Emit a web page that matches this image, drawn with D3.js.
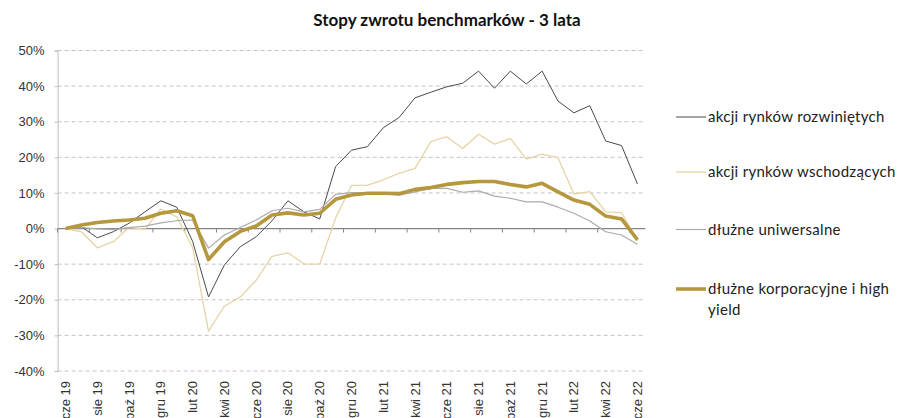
<!DOCTYPE html>
<html>
<head>
<meta charset="utf-8">
<script src="https://cdn.jsdelivr.net/npm/d3@7"></script>
<style>
  body { margin: 0; background: #fff; }
  svg { display: block; }
</style>
</head>
<body>
<div id="graph"></div>
<script>
// miesiace (dane miesieczne cze 19 - cze 22)
let miesiace = ["cze 19", "lip 19", "sie 19", "wrz 19", "paź 19", "lis 19", "gru 19",
  "sty 20", "lut 20", "mar 20", "kwi 20", "maj 20", "cze 20", "lip 20", "sie 20", "wrz 20",
  "paź 20", "lis 20", "gru 20", "sty 21", "lut 21", "mar 21", "kwi 21", "maj 21", "cze 21",
  "lip 21", "sie 21", "wrz 21", "paź 21", "lis 21", "gru 21", "sty 22", "lut 22", "mar 22",
  "kwi 22", "maj 22", "cze 22"];

// stopy zwrotu w %
let rozwiniete = [0, 0.5, -2.6, -0.9, 1.5, 4.7, 7.8, 6.0, -3.6, -19.2, -10.2, -5.1, -2.3, 2.2,
  7.8, 4.7, 2.7, 17.4, 22.0, 23.0, 28.3, 31.2, 36.7, 38.3, 39.8, 40.8, 44.2, 39.4, 44.2, 40.6,
  44.2, 35.8, 32.5, 34.5, 24.6, 23.3, 12.5];
let wschodzace = [0, -0.9, -5.4, -3.7, 0.3, -0.2, 5.5, 3.3, -5.3, -28.8, -21.8, -19.2, -14.5,
  -7.8, -6.8, -9.9, -10.0, 3.0, 12.1, 12.1, 13.7, 15.5, 16.9, 24.4, 25.8, 22.5, 26.5, 23.7, 25.3,
  19.5, 20.9, 19.9, 9.7, 10.4, 4.7, 4.5, -3.5];
let uniwersalne = [0, 0.3, -0.1, -0.3, 0.3, 0.7, 1.6, 2.2, 2.4, -5.5, -1.8, 0.3, 2.4, 5.0, 5.7,
  4.7, 5.4, 9.6, 10.1, 10.1, 9.9, 9.4, 10.3, 11.3, 11.3, 10.2, 10.6, 9.1, 8.5, 7.5, 7.5, 6.0, 4.3,
  2.1, -0.9, -1.8, -4.4];
let korporacyjne = [0, 1.0, 1.7, 2.1, 2.4, 2.9, 4.3, 5.0, 3.6, -8.7, -3.7, -0.8, 0.7, 3.8, 4.4,
  3.8, 4.3, 8.2, 9.4, 9.9, 9.9, 9.8, 11.0, 11.5, 12.4, 12.9, 13.2, 13.2, 12.4, 11.7, 12.7, 10.3,
  8.0, 6.8, 3.5, 2.7, -3.2];

let yTicks = [-40, -30, -20, -10, 0, 10, 20, 30, 40, 50];

let seriaNazwy = ["akcji rynków rozwiniętych", "akcji rynków wschodzących",
  "dłużne uniwersalne", "dłużne korporacyjne i high yield"];

let serie = [
  { nazwa: seriaNazwy[0], dane: rozwiniete, kolor: "#4a4a4a", grubosc: 1 },
  { nazwa: seriaNazwy[1], dane: wschodzace, kolor: "#e7d4a6", grubosc: 1.3 },
  { nazwa: seriaNazwy[2], dane: uniwersalne, kolor: "#ababab", grubosc: 1.2 },
  { nazwa: seriaNazwy[3], dane: korporacyjne, kolor: "#b5983d", grubosc: 3.6 }
];

var svgWidth = 898;
var svgHeight = 418;
var plot = { left: 57.6, right: 645.4, top: 50.5, bottom: 371 };

var svg = d3.select("#graph")
  .append("svg")
  .attr("width", svgWidth)
  .attr("height", svgHeight);

// skale
var x = d3.scalePoint()
  .domain(miesiace)
  .range([plot.left, plot.right])
  .padding(0.5);
var krok = x.step();

var y = d3.scaleLinear()
  .domain([-40, 50])
  .range([plot.bottom, plot.top]);

// tytul
svg.append("text")
  .attr("x", 447)
  .attr("y", 26)
  .attr("text-anchor", "middle")
  .style("font-family", "Lato, 'Noto Sans', sans-serif")
  .style("font-weight", "700")
  .style("font-size", "17px")
  .attr("fill", "#111")
  .text("Stopy zwrotu benchmarków - 3 lata");

// linie siatki (przerywane)
svg.append("g")
  .selectAll("line")
  .data(yTicks.filter(d => d !== 0))
  .join("line")
  .attr("x1", plot.left)
  .attr("x2", plot.right)
  .attr("y1", d => y(d))
  .attr("y2", d => y(d))
  .attr("stroke", "#c4c4c4")
  .attr("stroke-width", 1)
  .attr("stroke-dasharray", "4,3");

// os Y
var leftAxis = d3.axisLeft(y)
  .tickValues(yTicks)
  .tickFormat(d => d + "%")
  .tickSize(3)
  .tickPadding(10);

var osY = svg.append("g")
  .attr("transform", `translate(${plot.left}, 0)`)
  .call(leftAxis);
osY.select(".domain").attr("stroke", "#bdbdbd");
osY.selectAll(".tick line").attr("stroke", "#bdbdbd");
osY.selectAll("text")
  .style("font-family", "'Liberation Sans', Arial, sans-serif")
  .style("font-size", "13px")
  .attr("fill", "#333");

// os X na poziomie 0%, kreski co 2 miesiace pomiedzy kategoriami
var osX = svg.append("g")
  .attr("transform", `translate(0, ${y(0)})`);

osX.append("line")
  .attr("x1", plot.left)
  .attr("x2", plot.right)
  .attr("stroke", "#858585")
  .attr("stroke-width", 1.2);

osX.selectAll(".kreska")
  .data(miesiace.filter((d, i) => i % 2 === 0))
  .join("line")
  .attr("class", "kreska")
  .attr("x1", d => x(d) - krok / 2)
  .attr("x2", d => x(d) - krok / 2)
  .attr("y1", 0)
  .attr("y2", 4)
  .attr("stroke", "#858585");

// etykiety miesiecy na dole (obrocone)
svg.append("g")
  .selectAll("text")
  .data(miesiace.filter((d, i) => i % 2 === 0))
  .join("text")
  .attr("transform", d => `translate(${x(d) + 4.5}, 381) rotate(-90)`)
  .attr("text-anchor", "end")
  .style("font-family", "'Liberation Sans', Arial, sans-serif")
  .style("font-size", "13px")
  .attr("fill", "#333")
  .text(d => d);

// linie serii
var drawLine = d3.line()
  .x((d, i) => x(miesiace[i]))
  .y(d => y(d));

svg.append("g")
  .selectAll("path")
  .data(serie)
  .join("path")
  .attr("d", s => drawLine(s.dane))
  .attr("fill", "none")
  .attr("stroke", s => s.kolor)
  .attr("stroke-width", s => s.grubosc)
  .attr("stroke-linejoin", "round");

// legenda
var legendaY = [117, 172, 229.5, 289];
var legenda = svg.append("g")
  .selectAll("g")
  .data(serie)
  .join("g")
  .attr("transform", (s, i) => `translate(676, ${legendaY[i]})`);

legenda.append("line")
  .attr("x1", 0)
  .attr("x2", 30)
  .attr("stroke", s => s.kolor)
  .attr("stroke-width", s => s.grubosc);

legenda.append("text")
  .attr("x", 32)
  .attr("y", 5)
  .style("font-family", "Lato, 'Noto Sans', sans-serif")
  .style("font-size", "15px")
  .style("letter-spacing", "0.3px")
  .attr("fill", "#222")
  .each(function (s) {
    var t = d3.select(this);
    if (s.nazwa.length > 28) {
      t.append("tspan").attr("x", 32).text("dłużne korporacyjne i high");
      t.append("tspan").attr("x", 32).attr("dy", 21).text("yield");
    } else {
      t.text(s.nazwa);
    }
  });
</script>
</body>
</html>
